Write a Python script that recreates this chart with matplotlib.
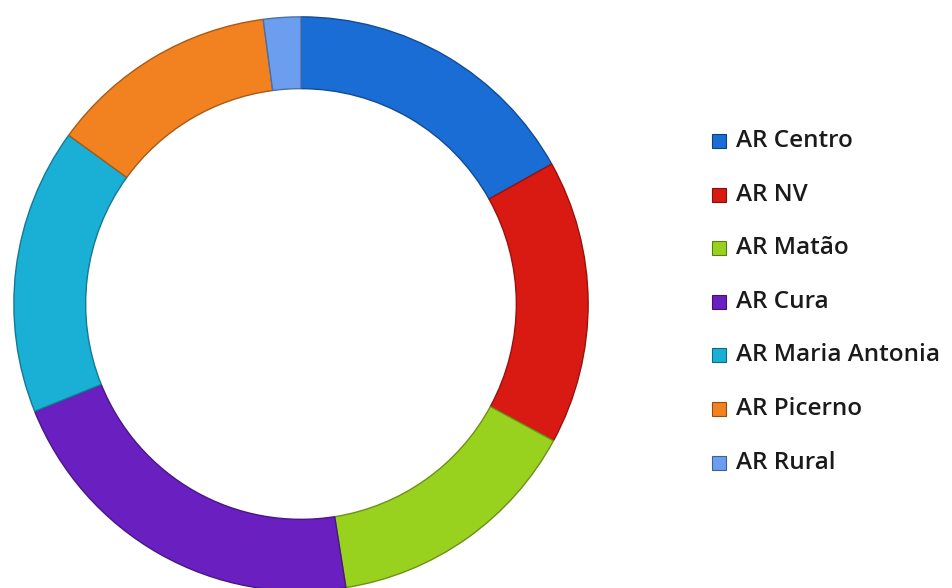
import matplotlib.pyplot as plt
from matplotlib.patches import Rectangle
from matplotlib.colors import to_rgb

# share of each AR (percent)
labels = ["AR Centro", "AR NV", "AR Matão", "AR Cura", "AR Maria Antonia", "AR Picerno", "AR Rural"]
values = [16.9, 16.0, 14.6, 21.4, 16.1, 12.9, 2.1]
colors = ["#1a6dd4", "#d91a12", "#99d11f", "#6a1fc0", "#1aafd5", "#f28120", "#6c9ef0"]


def darker(c, f=0.7):
    r, g, b = to_rgb(c)
    return (r * f, g * f, b * f)


fig = plt.figure(figsize=(9.52, 5.88), dpi=100)
W, H = 952, 588
cx, cy, R = 301, 304, 290
ax = fig.add_axes([(cx - R) / W, (H - cy - R) / H, 2 * R / W, 2 * R / H])

wedges, _ = ax.pie(values, colors=colors, startangle=90, counterclock=False,
                   radius=1, wedgeprops=dict(width=0.25, linewidth=1.0))
for w, c in zip(wedges, colors):
    w.set_edgecolor(darker(c))
ax.set_xlim(-1.01, 1.01)
ax.set_ylim(-1.01, 1.01)
ax.axis("off")

# legend
y0, step = 141, 53.6
for i, (lab, c) in enumerate(zip(labels, colors)):
    y = y0 + i * step
    fig.patches.append(Rectangle((712 / W, 1 - (y + 7) / H), 14 / W, 14 / H,
                                 transform=fig.transFigure, facecolor=c,
                                 edgecolor=darker(c, 0.6), linewidth=0.8))
    fig.text(736 / W, 1 - y / H, lab, fontsize=17.5, family="Open Sans",
             weight=600, color="#1a1a1a", va="center", ha="left")

fig.savefig("out.png", dpi=100)
